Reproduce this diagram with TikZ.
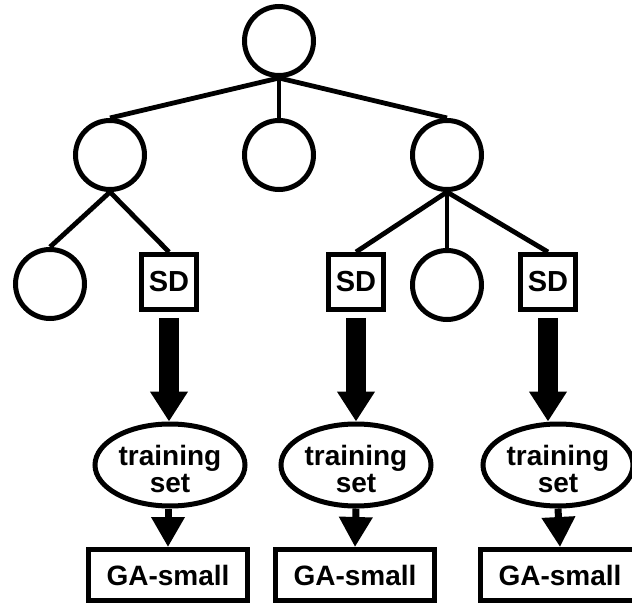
\documentclass[tikz,border=0pt]{standalone}
\usepackage{fontspec}
\setmainfont{Liberation Sans}
\usetikzlibrary{arrows.meta,shapes.geometric}
\begin{document}
\begin{tikzpicture}[x=0.5pt,y=-0.5pt,
  circ/.style={circle,draw,line width=2.5pt,minimum size=34.5pt,inner sep=0pt},
  sdbox/.style={rectangle,draw,line width=2.5pt,minimum size=27.5pt,inner sep=0pt,font=\bfseries\fontsize{14.5}{16}\selectfont},
  tset/.style={ellipse,draw,line width=2.5pt,minimum width=75pt,minimum height=41pt,inner sep=0pt,
    label={[align=center,yshift=-2pt,font=\bfseries\fontsize{14}{11}\selectfont]center:{training\\set}}},
  gabox/.style={rectangle,draw,line width=2.5pt,minimum width=79.5pt,minimum height=25.5pt,inner sep=0pt,font=\bfseries\fontsize{14}{16}\selectfont},
  edge/.style={line width=2.4pt},
  bigarrow/.style={line width=10pt,-{Triangle[width=18pt,length=15pt]},shorten <=3pt},
  smallarrow/.style={line width=3.5pt,-{Triangle[width=16pt,length=15pt]}}
]
\clip (0,0) rectangle (632,604);
\path[use as bounding box] (0,0) rectangle (632,604);
% tree
\node[circ] (root) at (279,41) {};
\node[circ] (n1) at (110,155) {};
\node[circ] (n2) at (279,155) {};
\node[circ] (n3) at (447,155) {};
\node[circ] (c1) at (50,284) {};
\node[sdbox] (sd1) at (169,282) {SD};
\node[sdbox] (sd2) at (356,282) {SD};
\node[circ] (c2) at (447,285) {};
\node[sdbox] (sd3) at (548,282) {SD};
% lower
\node[tset] (ts1) at (170,465) {};
\node[tset] (ts2) at (356,465) {};
\node[tset] (ts3) at (558,465) {};
\node[gabox] (ga1) at (168,575) {GA-small};
\node[gabox] (ga2) at (355,575) {GA-small};
\node[gabox] (ga3) at (560,575) {GA-small};
% edges
\draw[edge] (root.south) -- (n1.north);
\draw[edge] (root.south) -- (n2.north);
\draw[edge] (root.south) -- (n3.north);
\draw[edge] (n1.south) -- (c1.north);
\draw[edge] (n1.south) -- (sd1.north);
\draw[edge] (n3.south) -- (sd2.north);
\draw[edge] (n3.south) -- (c2.north);
\draw[edge] (n3.south) -- (sd3.north);
% arrows
\draw[bigarrow] (sd1.south) -- (ts1.north -| sd1.south);
\draw[bigarrow] (sd2.south) -- (ts2.north);
\draw[bigarrow] (sd3.south) -- (ts3.north -| sd3.south);
\draw[smallarrow] (ts1.south -| ga1.north) -- (ga1.north);
\draw[smallarrow] (ts2.south) -- (ga2.north);
\draw[smallarrow] (ts3.south) -- (ga3.north);
\end{tikzpicture}
\end{document}
